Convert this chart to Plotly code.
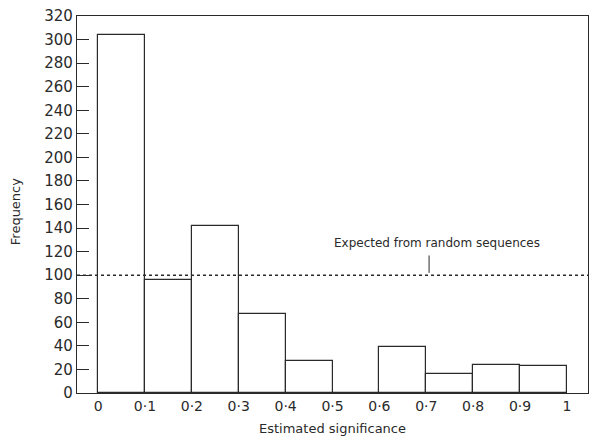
import plotly.graph_objects as go

bin_starts = [0.0, 0.1, 0.2, 0.3, 0.4, 0.5, 0.6, 0.7, 0.8, 0.9]
frequency = [304, 96, 142, 67, 27, 0, 39, 16, 24, 23]
expected = 100
x_tick_vals = [0, 0.1, 0.2, 0.3, 0.4, 0.5, 0.6, 0.7, 0.8, 0.9, 1.0]
x_tick_text = ["0", "0·1", "0·2", "0·3", "0·4", "0·5", "0·6", "0·7", "0·8", "0·9", "1"]
y_tick_vals = list(range(0, 321, 20))

ink = "#2a2a2a"
font_family = "DejaVu Sans, Liberation Sans, sans-serif"

fig = go.Figure()
fig.add_trace(go.Bar(
    x=bin_starts, y=frequency, width=0.1, offset=0,
    marker=dict(color="rgba(0,0,0,0)", line=dict(color=ink, width=1.2)),
    showlegend=False,
))
fig.add_shape(type="line", xref="paper", x0=0, x1=1, yref="y", y0=expected, y1=expected,
              line=dict(color=ink, width=1.4, dash="dot"))
fig.add_annotation(x=0.706, y=expected + 2, ax=0.706, ay=expected + 18, axref="x", ayref="y",
                   showarrow=True, arrowhead=0, arrowwidth=1, arrowcolor=ink, text="")
fig.add_annotation(x=0.723, y=127, text="Expected from random sequences", showarrow=False,
                   font=dict(size=12, color=ink, family=font_family))
fig.add_annotation(xref="paper", yref="paper", x=0.5, y=-0.093, yanchor="middle",
                   text="Estimated significance", showarrow=False,
                   font=dict(size=13, color=ink, family=font_family))
fig.add_annotation(xref="paper", yref="paper", x=-0.121, y=0.48, xanchor="center", yanchor="middle",
                   text="Frequency", textangle=-90, showarrow=False,
                   font=dict(size=13, color=ink, family=font_family))

fig.update_layout(
    width=590, height=437,
    margin=dict(l=77, r=2, t=16, b=44, autoexpand=False),
    plot_bgcolor="white", paper_bgcolor="white",
    font=dict(family=font_family, color=ink, size=15),
    bargap=0,
    xaxis=dict(
        range=[-0.045, 1.045], tickmode="array", tickvals=x_tick_vals, ticktext=x_tick_text,
        showgrid=False, zeroline=False, showline=True, linecolor=ink, linewidth=1.2,
        mirror=True, ticks="", tickfont=dict(size=14), automargin=False,
    ),
    yaxis=dict(
        range=[0, 320], tickmode="array", tickvals=y_tick_vals,
        showgrid=False, zeroline=False, showline=True, linecolor=ink, linewidth=1.2,
        mirror=True, ticks="inside", ticklen=12, tickcolor=ink, tickfont=dict(size=15),
        automargin=False,
    ),
)
fig.write_html("out.html", config={"displayModeBar": False},
               post_script="document.body.style.margin='0';")
